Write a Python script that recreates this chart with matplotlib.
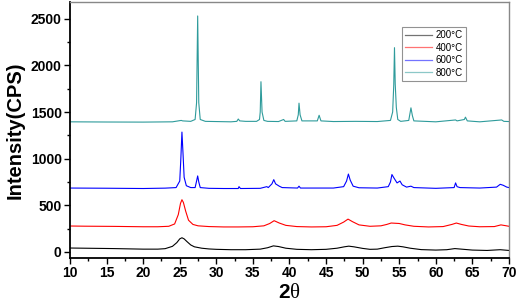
import matplotlib
matplotlib.use("Agg")
import matplotlib.pyplot as plt
from matplotlib.ticker import MultipleLocator

plt.rcParams['font.family'] = ['Liberation Sans', 'DejaVu Sans']
plt.rcParams['mathtext.fontset'] = 'custom'
plt.rcParams['mathtext.rm'] = 'Liberation Serif'
plt.rcParams['mathtext.bf'] = 'Liberation Sans:bold'
plt.rcParams['mathtext.it'] = 'Liberation Serif:italic'

labels = ["200°C", "400°C", "600°C", "800°C"]
colors = ["#000000", "#ff0000", "#0000ff", "#2e9b9b"]

s200 = [(10,42),(12,40),(14,38),(16,36),(18,33),(20,30),(22,30),(23,35),(24,60),(24.6,100),(25,140),
        (25.3,152),(25.6,140),(26,110),(26.5,75),(27,55),(28,40),(29,32),(30,28),(32,24),(34,24),(36,30),
        (37,45),(37.8,65),(38.5,58),(39.5,40),(41,28),(43,24),(45,28),(46.5,40),(47.5,55),(48.1,62),
        (48.8,55),(50,38),(51,28),(52,30),(53,45),(54,58),(54.8,62),(55.5,55),(56.5,40),(58,25),(60,20),
        (61.5,24),(62.6,36),(63.5,30),(65,20),(67,16),(68.8,24),(70,16)]

s400 = [(10,278),(12,276),(14,275),(16,274),(18,272),(20,270),(22,270),(23.5,275),(24.3,300),(24.8,400),
        (25.1,520),(25.3,560),(25.5,530),(25.8,440),(26.2,340),(26.8,295),(27.5,280),(29,272),(31,268),
        (33,268),(35,270),(36.5,280),(37.3,305),(37.9,335),(38.6,310),(39.5,285),(41,272),(43,268),
        (45,270),(46.5,285),(47.4,320),(48.0,352),(48.6,325),(49.5,290),(51,275),(52.5,280),(53.3,295),
        (53.9,310),(55.0,305),(55.8,290),(57,275),(59,268),(61,272),(62.2,295),(62.8,310),(63.5,295),
        (64.5,278),(66,270),(68,272),(68.9,290),(69.5,282),(70,275)]

s600 = [(10,685),(15,683),(20,680),(23,684),(24.5,690),(25.0,760),(25.15,1000),(25.3,1285),(25.45,1050),
        (25.6,800),(25.9,710),(26.5,690),(27.1,690),(27.3,760),(27.45,815),(27.6,750),(27.8,690),(29,682),
        (31,680),(33,680),(33.1,700),(33.3,680),(36,682),(36.9,700),(37.1,690),(37.6,730),(37.85,775),
        (38.1,730),(38.6,705),(39,690),(41.1,685),(41.3,705),(41.5,685),(46,685),(47.4,700),(47.8,760),
        (48.05,835),(48.3,770),(48.7,705),(49.5,688),(52,685),(53.5,700),(53.8,750),(54.0,830),(54.3,790),
        (54.7,740),(55.1,760),(55.4,720),(56,695),(56.6,705),(57,690),(60,682),(62.5,690),(62.7,740),
        (62.9,700),(63.3,690),(66,685),(68.3,695),(68.8,725),(69.2,715),(69.7,695),(70,690)]

s800 = [(10,1395),(15,1393),(20,1392),(24,1395),(25.2,1410),(25.4,1405),(26.5,1400),(27.1,1420),(27.3,1600),
        (27.45,2530),(27.6,1600),(27.8,1420),(28.5,1400),(32,1395),(32.8,1400),(33.0,1425),(33.2,1405),
        (34,1400),(35.5,1400),(35.9,1420),(36.0,1500),(36.1,1825),(36.25,1500),(36.5,1410),(37,1400),
        (38.5,1398),(39.2,1420),(39.4,1400),(41,1405),(41.2,1470),(41.3,1595),(41.45,1470),(41.7,1405),
        (43.8,1405),(44.05,1465),(44.3,1405),(46,1398),(49,1400),(52,1398),(53.8,1410),(54.1,1500),
        (54.25,1790),(54.35,2190),(54.45,1800),(54.6,1550),(54.8,1420),(55.2,1400),(56.3,1410),(56.6,1545),
        (56.8,1460),(57,1405),(60,1395),(62.7,1415),(62.9,1405),(63.9,1420),(64.05,1445),(64.3,1405),
        (66,1395),(69.0,1415),(69.3,1400),(70,1398)]

series = [s200, s400, s600, s800]

fig = plt.figure(figsize=(5.17, 3.07), dpi=100)
ax = fig.add_axes([0.1354, 0.1596, 0.8491, 0.834])

for data, lab, col in zip(series, labels, colors):
    xs = [p[0] for p in data]
    ys = [p[1] for p in data]
    ax.plot(xs, ys, color=col, lw=0.8, label=lab)

ax.set_xlim(10, 70)
ax.set_ylim(-65, 2680)
ax.xaxis.set_major_locator(MultipleLocator(5))
ax.xaxis.set_minor_locator(MultipleLocator(2.5))
ax.yaxis.set_major_locator(MultipleLocator(500))
ax.yaxis.set_minor_locator(MultipleLocator(250))
ax.tick_params(which='both', direction='out', top=False, right=False, width=1)
ax.tick_params(which='major', length=4, labelsize=10, pad=2)
ax.tick_params(which='minor', length=2)
for t in ax.get_xticklabels() + ax.get_yticklabels():
    t.set_fontweight('bold')

for s in ['left', 'bottom']:
    ax.spines[s].set_linewidth(1.3)
    ax.spines[s].set_color('black')
for s in ['top', 'right']:
    ax.spines[s].set_linewidth(1.0)
    ax.spines[s].set_color('#888888')

ax.set_ylabel('Intensity(CPS)', fontsize=14.5, fontweight='bold', labelpad=4)
ax.set_xlabel(r'$\mathbf{2}\mathrm{\theta}$', fontsize=15, labelpad=2)

leg = ax.legend(loc='upper right', bbox_to_anchor=(0.902, 0.902), borderaxespad=0, fontsize=7,
                frameon=True, fancybox=False, edgecolor='#777777', handlelength=2.8,
                handletextpad=0.3, borderpad=0.35, labelspacing=0.25)
leg.get_frame().set_linewidth(0.8)
for h in leg.get_lines():
    h.set_linewidth(0.9)
    h.set_alpha(0.55)

fig.savefig('out.png', dpi=100)
